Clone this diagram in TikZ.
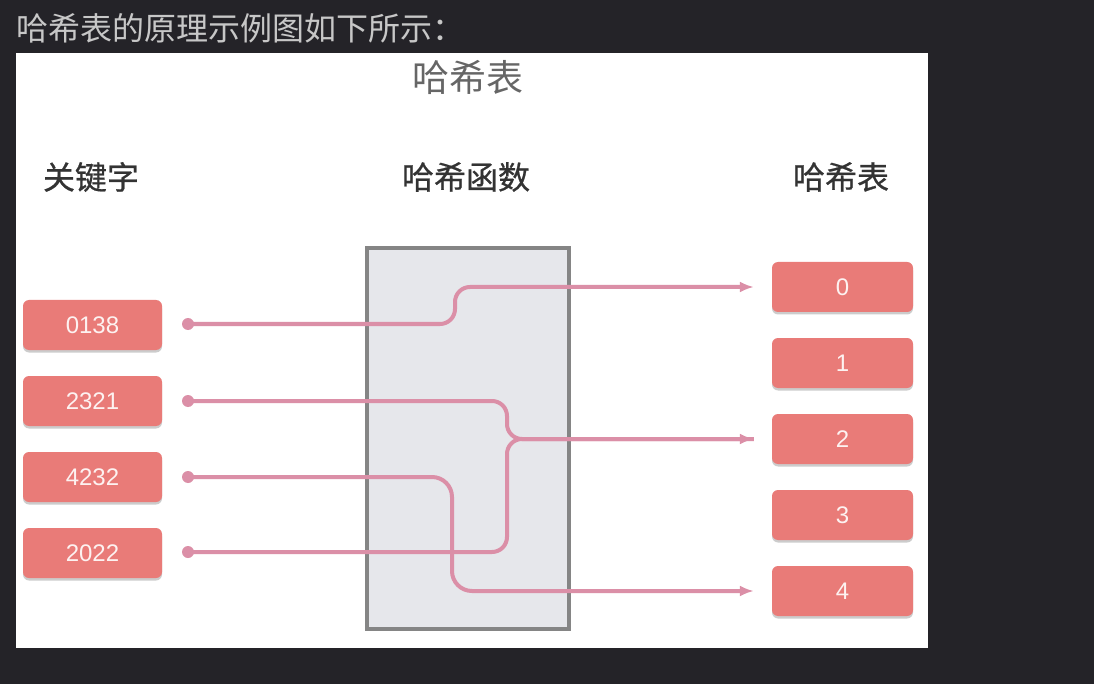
\documentclass[tikz,border=0pt]{standalone}
\usepackage{fontspec}
\setmainfont{Noto Sans CJK SC}
\newfontfamily\numfont{Liberation Sans}
\newfontfamily\headfont[FakeBold=0.7]{Noto Sans CJK SC}
\usetikzlibrary{arrows.meta,shadows}
\definecolor{bgdark}{HTML}{242328}
\definecolor{boxred}{HTML}{E97B78}
\definecolor{linkpink}{HTML}{DB8FA7}
\definecolor{hashgray}{HTML}{E6E7EB}

\begin{document}
\begin{tikzpicture}[x=1pt,y=-1pt,
  keybox/.style={fill=boxred,rounded corners=6pt,minimum width=139pt,minimum height=50pt,inner sep=0pt,
    text=white!90!boxred,font=\numfont\fontsize{24}{24}\selectfont,
    drop shadow={shadow xshift=0pt,shadow yshift=-2.5pt,opacity=.4}},
  head/.style={text=black!80,font=\headfont\fontsize{32}{32}\selectfont},
  link/.style={draw=linkpink,line width=4pt,rounded corners=15pt},
  tip/.style={-{Latex[length=14pt,width=11pt]}},
  dot/.style={circle,fill=linkpink,inner sep=0pt,minimum size=12pt}]
\useasboundingbox[fill=bgdark] (0,0) rectangle (1094,684);
\fill[white] (16,53) rectangle (928,648);
\node[text=black!22,font=\fontsize{32}{32}\selectfont,anchor=west] (intro) at (13,28) {哈希表的原理示例图如下所示：};
\node[text=black!60,font=\fontsize{37}{37}\selectfont] (title) at (468,77) {哈希表};
\node[head] (hkey) at (91,177) {关键字}; \node[head] (hfun) at (466,177) {哈希函数}; \node[head] (htab) at (841,177) {哈希表};
% hash function box
\node[draw=black!48,fill=hashgray,line width=4pt,minimum width=202pt,minimum height=381pt] (hf) at (468,438.5) {};
% keys and slots
\node[keybox] (k1) at (92.5,325) {0138}; \node[keybox] (k2) at (92.5,401) {2321};
\node[keybox] (k3) at (92.5,477) {4232}; \node[keybox] (k4) at (92.5,553) {2022};
\node[keybox,minimum width=141pt] (s0) at (842.5,287) {0}; \node[keybox,minimum width=141pt] (s1) at (842.5,363) {1};
\node[keybox,minimum width=141pt] (s2) at (842.5,439) {2}; \node[keybox,minimum width=141pt] (s3) at (842.5,515) {3};
\node[keybox,minimum width=141pt] (s4) at (842.5,591) {4};
\node[dot] (d1) at (188,324) {}; \node[dot] (d2) at (188,401) {};
\node[dot] (d3) at (188,477) {}; \node[dot] (d4) at (188,552) {};
\coordinate (b1) at (455,0); \coordinate (b2) at (507,0); \coordinate (b3) at (452,0);
% links through the hash function
\draw[link] (d2.center) -| (b2 |- s2.west) -- ([xshift=-18pt]s2.west);
\draw[link,tip] (d4.center) -| (b2 |- s2.west) -- ([xshift=-18pt]s2.west);
\draw[link,tip] (d1.center) -| (b1 |- s0.west) -- ([xshift=-18pt]s0.west);
\draw[link,rounded corners=20pt,tip] (d3.center) -| (b3 |- s4.west) -- ([xshift=-18pt]s4.west);
\end{tikzpicture}
\end{document}
